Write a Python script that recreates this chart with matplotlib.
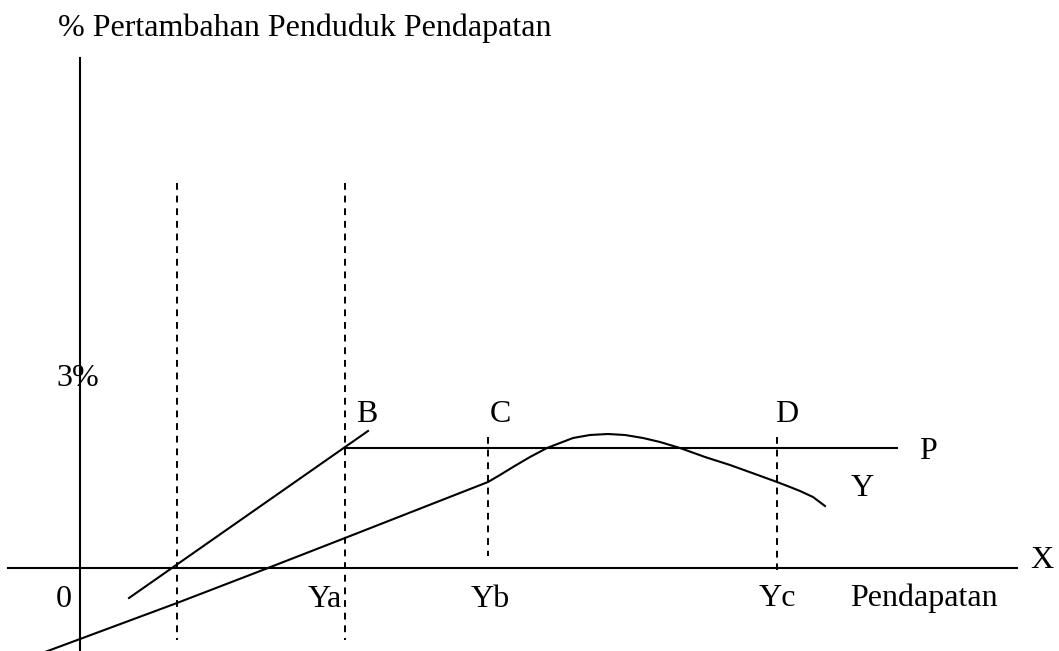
import matplotlib
matplotlib.use("Agg")
import matplotlib.pyplot as plt

plt.rcParams['font.family'] = ['Liberation Serif', 'DejaVu Serif']

# diagram drawn in pixel space of the original sketch (x right, y down)
W, H = 1059, 651

# axes of the diagram
y_axis_x = 80
y_axis_top = 58
x_axis_y = 568
x_axis_left, x_axis_right = 8, 1017

# dashed guide lines: (x, top, bottom)
guide_x = [177, 345, 488, 777]
guide_top = [183, 183, 437, 437]
guide_bottom = [640, 640, 556, 570]

# population growth line (through B)
pop_x = [129, 368]
pop_y = [598, 431]

# horizontal P line
p_level = 448
p_start, p_end = 345, 897

# income curve Y
inc_x = [45, 177, 268, 345, 488, 500, 513, 530, 547, 560, 573, 590, 608, 625, 643,
         660, 680, 705, 730, 755, 777, 790, 800, 813, 825]
inc_y = [652, 603, 568, 538, 482, 475, 467, 457, 448, 443, 438, 435, 434, 435, 438,
         442, 448, 457, 465, 474, 482, 487, 491, 497, 506]

# labels: text, x, baseline y
labels = ["3%", "B", "C", "D", "P", "Y", "X", "0", "Ya", "Yb", "Yc", "Pendapatan"]
label_x = [78, 367, 500, 787, 928, 862, 1042, 64, 325, 490, 777, 924]
label_y = [386, 422, 422, 422, 459, 496, 568, 607, 607, 607, 606, 606]
title = "% Pertambahan Penduduk Pendapatan"

fig = plt.figure(figsize=(W / 100, H / 100), dpi=100)
ax = fig.add_axes([0, 0, 1, 1])
ax.set_xlim(0, W)
ax.set_ylim(H, 0)
ax.axis('off')

lw = 1.5
ax.plot([y_axis_x, y_axis_x], [y_axis_top, H + 5], color='black', lw=lw)
ax.plot([x_axis_left, x_axis_right], [x_axis_y, x_axis_y], color='black', lw=lw)

for gx, gt, gb in zip(guide_x, guide_top, guide_bottom):
    ax.plot([gx, gx], [gt, gb], color='black', lw=1.4, linestyle=(0, (3.5, 3)))

ax.plot(pop_x, pop_y, color='black', lw=lw)
ax.plot([p_start, p_end], [p_level, p_level], color='black', lw=lw)
ax.plot(inc_x, inc_y, color='black', lw=lw, solid_joinstyle='round')

ax.text(58, 36, title, fontsize=23, ha='left', va='baseline')
for t, x, y in zip(labels, label_x, label_y):
    ax.text(x, y, t, fontsize=23, ha='center', va='baseline')

fig.savefig("out.png", dpi=100)
